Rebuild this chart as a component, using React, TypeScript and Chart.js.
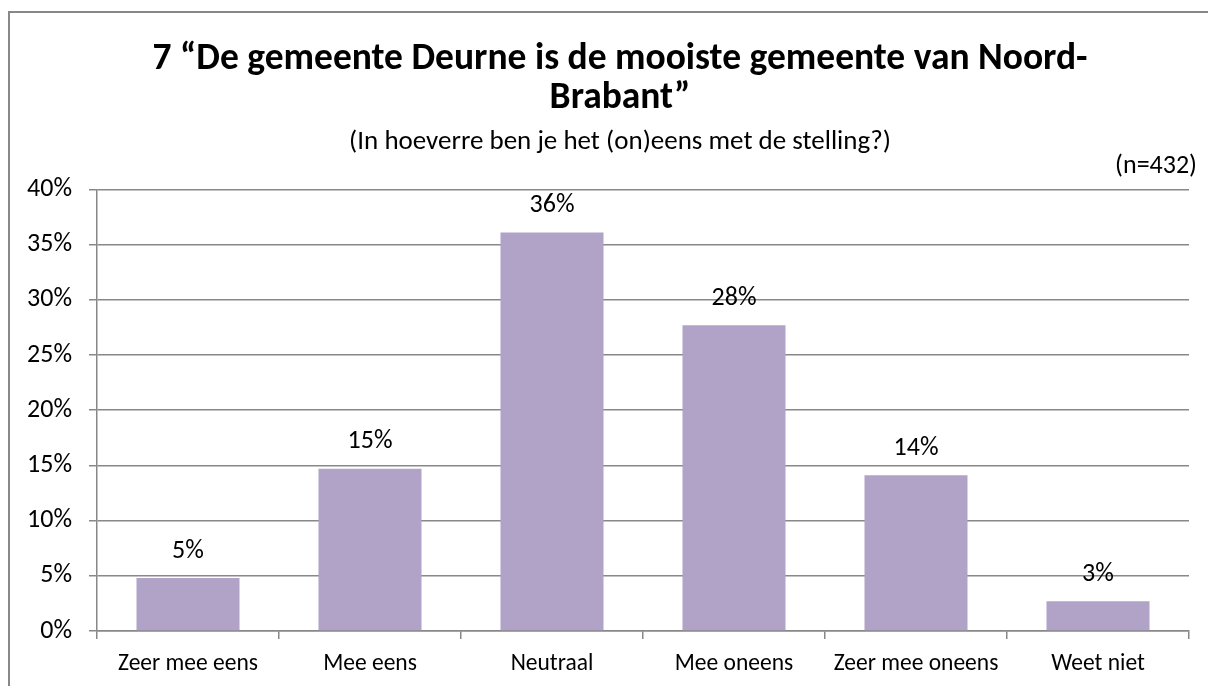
import React, { useEffect, useRef } from "react";
import { Chart, registerables } from "chart.js";

Chart.register(...registerables);

const titleLines = ["7 \u201CDe gemeente Deurne is de mooiste gemeente van Noord-", "Brabant\u201D"];
const subtitleText = "(In hoeverre ben je het (on)eens met de stelling?)";
const sampleNote = "(n=432)";
const categories = ["Zeer mee eens", "Mee eens", "Neutraal", "Mee oneens", "Zeer mee oneens", "Weet niet"];
const values = [4.8, 14.7, 36.1, 27.7, 14.1, 2.7];
const yTicks = [0, 5, 10, 15, 20, 25, 30, 35, 40];

const FONT = "Carlito, Calibri, Lato, sans-serif";
const GRID = "#888888";
const BAR = "#B1A2C8";

const extrasPlugin = {
  id: "extras",
  afterDatasetsDraw(chart: any) {
    const ctx = chart.ctx;
    const meta = chart.getDatasetMeta(0);
    ctx.save();
    ctx.font = `26px ${FONT}`;
    ctx.fillStyle = "#000";
    ctx.textAlign = "center";
    ctx.textBaseline = "middle";
    meta.data.forEach((bar: any, i: number) => {
      ctx.fillText(Math.round(values[i]) + "%", bar.x, bar.y - 27);
    });
    ctx.textAlign = "right";
    ctx.fillText(sampleNote, chart.chartArea.right + 8, chart.chartArea.top - 23);
    ctx.restore();
  },
};

function App() {
  const ref = useRef<HTMLCanvasElement | null>(null);
  useEffect(() => {
    if (!ref.current) return;
    const chart = new Chart(ref.current, {
      type: "bar",
      data: {
        labels: categories,
        datasets: [
          {
            data: values,
            backgroundColor: BAR,
            borderWidth: 0,
            barPercentage: 0.566,
            categoryPercentage: 1,
            yAxisID: "y",
          },
        ],
      },
      options: {
        responsive: false,
        animation: false,
        devicePixelRatio: 1,
        layout: { padding: { left: 10, right: 0, top: 12, bottom: 0 } },
        plugins: {
          legend: { display: false },
          tooltip: { enabled: false },
          title: {
            display: true,
            text: titleLines,
            color: "#000",
            font: { family: FONT, size: 37.5, weight: "bold", lineHeight: 39 / 37.5 },
            padding: { top: 28, bottom: 0 },
          },
          subtitle: {
            display: true,
            text: subtitleText,
            color: "#000",
            font: { family: FONT, size: 27, lineHeight: 1.2 },
            padding: { top: 8, bottom: 31 },
          },
        },
        scales: {
          x: {
            afterFit: (s: any) => {
              s.height = 55;
            },
            grid: {
              display: true,
              drawOnChartArea: false,
              drawTicks: true,
              tickLength: 8,
              color: GRID,
              lineWidth: 1.5,
              offset: true,
            },
            border: { display: true, color: GRID, width: 1.5 },
            ticks: {
              color: "#000",
              font: { family: FONT, size: 23.5 },
              padding: 11,
              maxRotation: 0,
              autoSkip: false,
            },
          },
          y: {
            position: "left",
            min: 0,
            max: 40,
            afterFit: (s: any) => {
              s.width = 87;
            },
            afterBuildTicks: (s: any) => {
              s.ticks = yTicks.map((v) => ({ value: v }));
            },
            grid: {
              color: GRID,
              lineWidth: 1.5,
              tickLength: 8,
              drawTicks: true,
            },
            border: { display: true, color: GRID, width: 1.5 },
            ticks: {
              color: "#000",
              font: { family: FONT, size: 26 },
              padding: 17,
              callback: (v: any) => v + "%",
            },
          },
          yRight: {
            type: "linear",
            position: "right",
            display: true,
            grid: { display: false, drawTicks: false },
            border: { display: false },
            ticks: { display: false },
            afterFit: (s: any) => {
              s.width = 41;
            },
          },
        },
      },
      plugins: [extrasPlugin],
    });
    return () => chart.destroy();
  }, []);

  return (
    <div style={{ position: "fixed", left: 0, top: 0, width: 1208, height: 686, overflow: "hidden", background: "#fff" }}>
      <div
        style={{
          position: "absolute",
          left: 8,
          top: 11,
          width: 1400,
          height: 900,
          borderTop: "2px solid #888",
          borderLeft: "2px solid #888",
          pointerEvents: "none",
        }}
      />
      <canvas ref={ref} width={1230} height={686} style={{ position: "absolute", left: 0, top: 0, display: "block" }} />
    </div>
  );
}

export default App;
